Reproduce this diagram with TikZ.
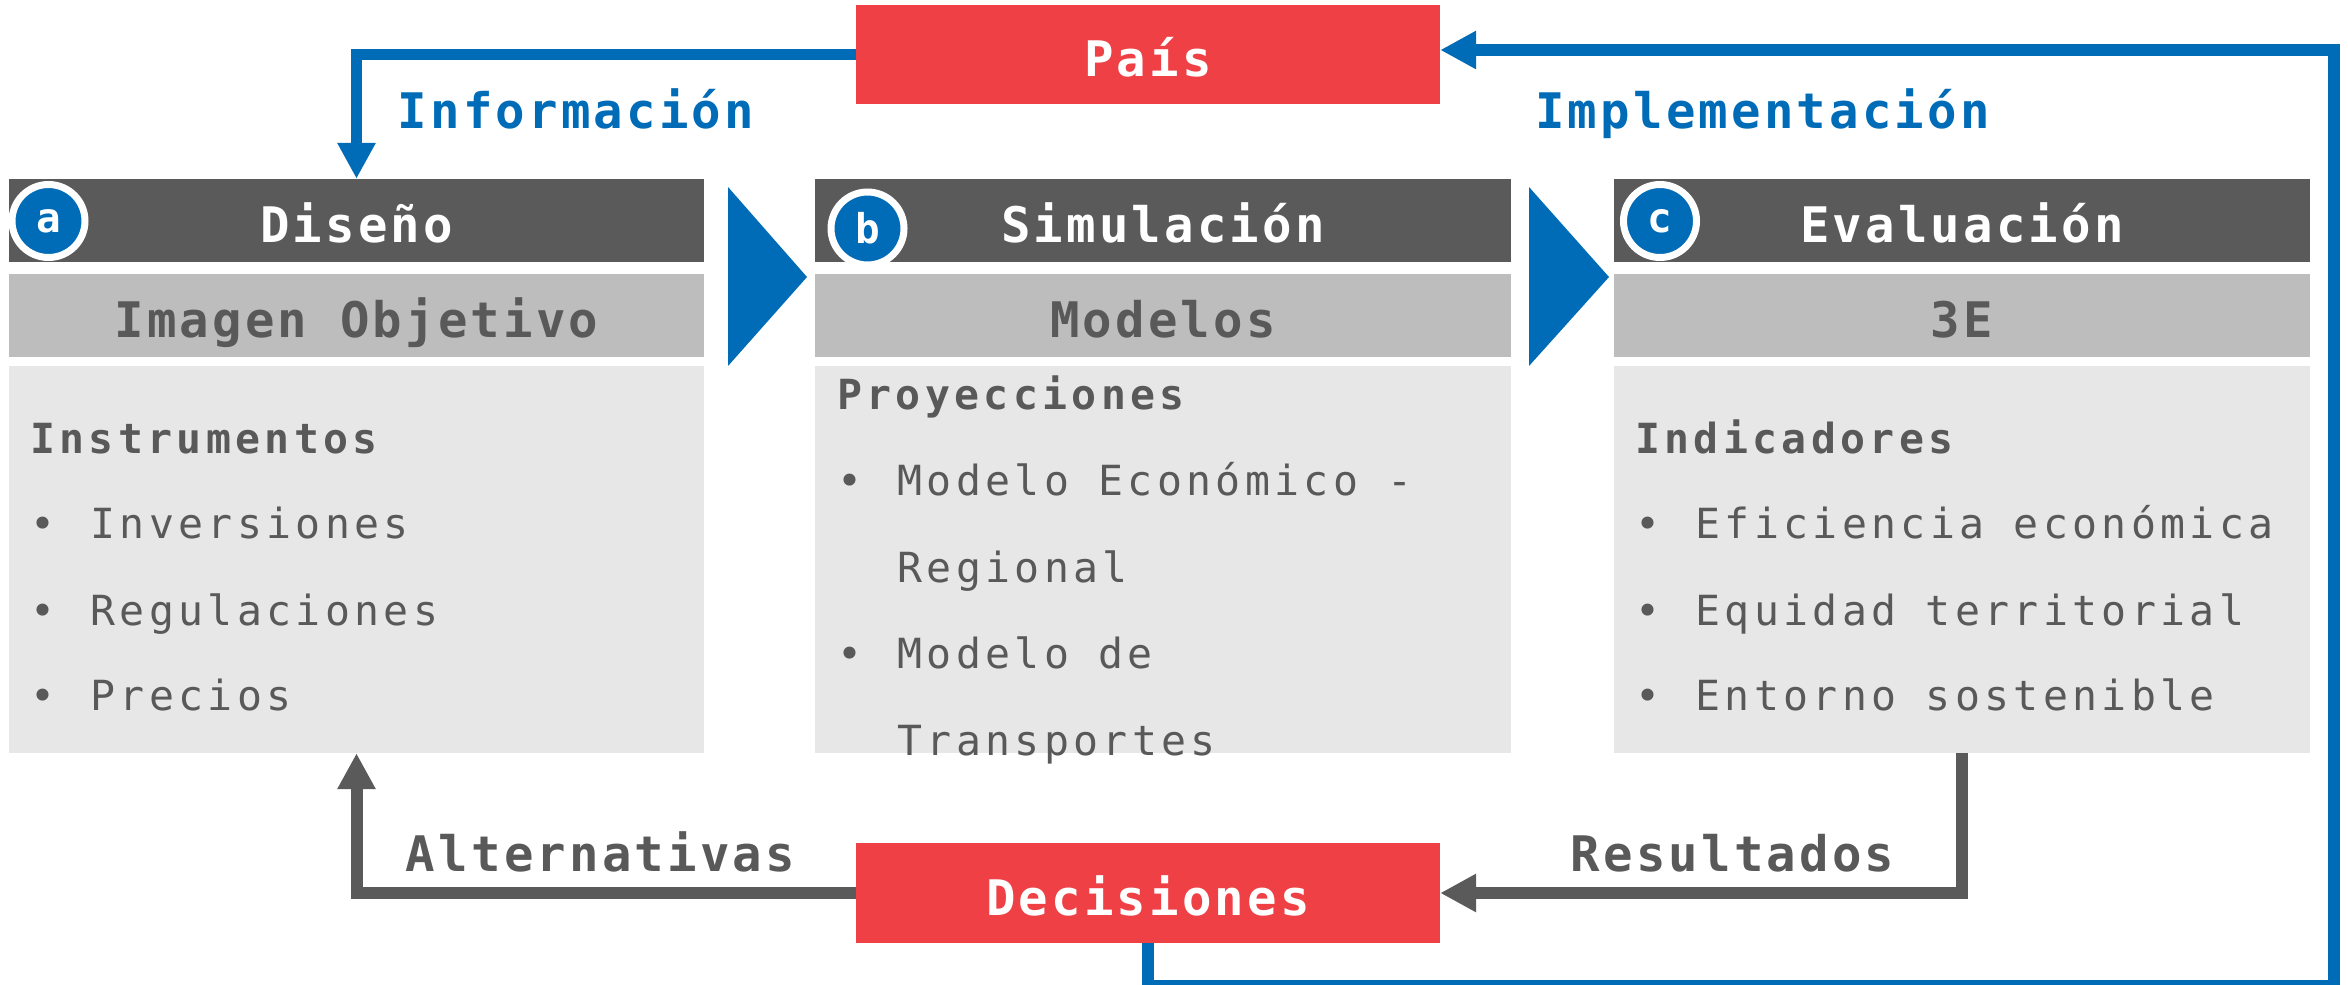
\documentclass[tikz,border=0pt]{standalone}
\usepackage{fontspec}
\usetikzlibrary{arrows.meta,calc}
\newfontfamily\bigmono[LetterSpace=6.5]{DejaVu Sans Mono}
\newfontfamily\bodymono[LetterSpace=10.5]{DejaVu Sans Mono}
\newfontfamily\circmono{DejaVu Sans Mono}
\definecolor{cblue}{HTML}{006CB7}
\definecolor{cred}{HTML}{EF4045}
\definecolor{cdark}{HTML}{5A5A5A}
\definecolor{cmid}{HTML}{BDBDBD}
\definecolor{clight}{HTML}{E7E7E7}
\definecolor{ctext}{HTML}{595959}
\newcommand{\bul}{•\hspace{6pt}\ }
\begin{document}
\begin{tikzpicture}[x=1pt,y=-1pt,
  hdr/.style={fill=cdark, minimum width=695.5pt, minimum height=83pt, inner sep=0pt, draw=none},
  barbox/.style={fill=cmid, minimum width=695.5pt, minimum height=83pt, inner sep=0pt, draw=none},
  bodybox/.style={fill=clight, minimum width=695.5pt, minimum height=387pt, inner sep=0pt, draw=none},
  redbox/.style={fill=cred, minimum width=584pt, minimum height=99pt, inner sep=0pt, draw=none},
  bigtext/.style={font=\bigmono\bfseries\fontsize{49pt}{58pt}\selectfont, anchor=base, inner sep=0pt},
  htext/.style={bigtext, text=white},
  bartext/.style={bigtext, text=ctext},
  bluelabel/.style={bigtext, text=cblue},
  greylabel/.style={bigtext, text=ctext},
  bodytitle/.style={font=\bodymono\bfseries\fontsize{41.5pt}{50pt}\selectfont, text=ctext, anchor=base west, inner sep=0pt},
  bodyitem/.style={font=\bodymono\fontsize{41.5pt}{50pt}\selectfont, text=ctext, anchor=base west, inner sep=0pt},
  badge/.style={circle, fill=cblue, draw=white, line width=7pt, minimum size=73pt, inner sep=0pt, text=white, font=\circmono\bfseries\fontsize{41pt}{47pt}\selectfont},
  bluearrow/.style={draw=cblue, line width=11.5pt, -{Triangle[length=36pt,width=36pt]}},
  greyarrow/.style={draw=cdark, line width=12pt, -{Triangle[length=36pt,width=36pt]}}
]
\useasboundingbox (0,0) rectangle (2348,985);
\fill[white] (0,0) rectangle (2348,985);

% red boxes
\node[redbox] (pais) at (1148,54.5) {};
\node[redbox, minimum height=100pt] (dec) at (1148,893) {};

% columns
\node[hdr] (hdA) at (356.5,220.5) {};
\node[barbox] (brA) at (356.5,315.5) {};
\node[bodybox] (bdA) at (356.5,559.5) {};
\node[hdr] (hdB) at (1163,220.5) {};
\node[barbox] (brB) at (1163,315.5) {};
\node[bodybox] (bdB) at (1163,559.5) {};
\node[hdr] (hdC) at (1962,220.5) {};
\node[barbox] (brC) at (1962,315.5) {};
\node[bodybox] (bdC) at (1962,559.5) {};

% chevrons
\fill[cblue] (728,187) -- (728,366) -- (807,277) -- cycle;
\fill[cblue] (1529,187) -- (1529,366) -- (1609,277) -- cycle;

% connectors
\coordinate (br) at (2334,986);
\coordinate (tr) at (2334,50);
\draw[bluearrow] (pais.west) -| (hdA.north);
\draw[bluearrow] (dec.south) |- (br) -- (tr) -- (tr -| pais.east);
\draw[greyarrow] (dec.west) -| (bdA.south);
\draw[greyarrow] (bdC.south) |- (dec.east);
\node[redbox] at (pais) {};
\node[redbox, minimum height=100pt] at (dec) {};

% red box texts
\node[htext] (paist) at (1148,76) {País};
\node[htext] (dect) at (1148,915) {Decisiones};

% headers
\node[htext] (hdAt) at (356.5,242) {Diseño};
\node[htext] (hdBt) at (1163,242) {Simulación};
\node[htext] (hdCt) at (1962,242) {Evaluación};
\node[bartext] (brAt) at (356.5,337) {Imagen Objetivo};
\node[bartext] (brBt) at (1163,337) {Modelos};
\node[bartext] (brCt) at (1962,337) {3E};

% badges
\node[badge] (ba) at (48.5,221) {a};
\node[badge] (bb) at (867.5,228.5) {b};
\node[badge] (bc) at (1660,221) {c};

% flow labels
\node[bluelabel] (info) at (576,128) {Información};
\node[bluelabel] (impl) at (1762.5,128) {Implementación};
\node[greylabel] (alt) at (600.5,871) {Alternativas};
\node[greylabel] (res) at (1732.5,871) {Resultados};

% column A body
\node[bodytitle] (a0) at (30,453) {Instrumentos};
\node[bodyitem] (a1) at (30,538) {\bul Inversiones};
\node[bodyitem] (a2) at (30,625) {\bul Regulaciones};
\node[bodyitem] (a3) at (30,710) {\bul Precios};

% column B body
\node[bodytitle] (b0) at (837,409) {Proyecciones};
\node[bodyitem] (b1) at (837,495) {\bul Modelo Económico -};
\node[bodyitem] (b2) at (837,582) {\hphantom{\bul}Regional};
\node[bodyitem] (b3) at (837,668) {\bul Modelo de};
\node[bodyitem] (b4) at (837,755) {\hphantom{\bul}Transportes};

% column C body
\node[bodytitle] (c0) at (1635,453) {Indicadores};
\node[bodyitem] (c1) at (1635,538) {\bul Eficiencia económica};
\node[bodyitem] (c2) at (1635,625) {\bul Equidad territorial};
\node[bodyitem] (c3) at (1635,710) {\bul Entorno sostenible};
\end{tikzpicture}
\end{document}
